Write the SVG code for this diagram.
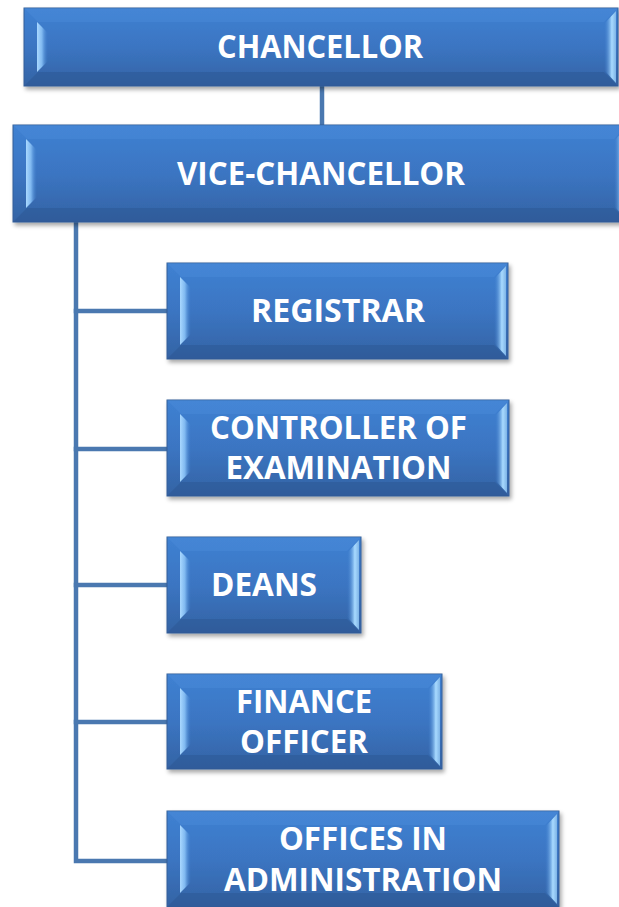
<svg xmlns="http://www.w3.org/2000/svg" width="619" height="907" viewBox="0 0 619 907">
<style>
.face{fill:url(#faceG);stroke:#345f98;stroke-width:1}
.top{fill:#4b8bd9;opacity:.45}
.bot{fill:#2a5590;opacity:.45}
.ls{fill:url(#lsG)}
.rs{fill:url(#rsG)}
.lbl{font-family:"Open Sans","Liberation Sans",sans-serif;font-weight:bold;font-size:32px;fill:#ffffff;text-anchor:middle}
.conn{stroke:#4a78b0;stroke-width:4.5;fill:none;stroke-linecap:square}
</style>
<defs>
<linearGradient id="faceG" x1="0" y1="0" x2="0" y2="1">
<stop offset="0" stop-color="#3f81d2"/>
<stop offset="0.5" stop-color="#3b75c2"/>
<stop offset="1" stop-color="#3463a4"/>
</linearGradient>
<linearGradient id="lsG" x1="0" y1="0" x2="1" y2="0">
<stop offset="0" stop-color="#a9d8ff"/>
<stop offset="0.45" stop-color="#7fb8f0"/>
<stop offset="1" stop-color="#3f7fcf" stop-opacity="0"/>
</linearGradient>
<linearGradient id="rsG" x1="0" y1="0" x2="1" y2="0">
<stop offset="0" stop-color="#3f7fcf" stop-opacity="0"/>
<stop offset="0.65" stop-color="#a8daff"/>
<stop offset="1" stop-color="#7fb4e6"/>
</linearGradient>
<filter id="sh" x="-5%" y="-10%" width="115%" height="130%">
<feDropShadow dx="2" dy="3" stdDeviation="2" flood-color="#000" flood-opacity="0.35"/>
</filter>
</defs>
<rect width="619" height="907" fill="#ffffff"/>
<g id="connectors">
<path class="conn" d="M322 86 V125"/>
<path class="conn" d="M76 222 V861 H167"/>
<path class="conn" d="M76 311 H167"/>
<path class="conn" d="M76 449 H167"/>
<path class="conn" d="M76 585 H167"/>
<path class="conn" d="M76 722 H167"/>
</g>
<g id="chancellor">
<rect class="face" x="24" y="8" width="594" height="78" filter="url(#sh)"/>
<polygon class="top" points="24,8 618,8 604,22 38,22"/>
<polygon class="bot" points="38,72 604,72 618,86 24,86"/>
<polygon class="ls" points="37,22 48,33 48,61 37,72"/>
<polygon class="rs" points="604,24 616,11 616,83 604,70"/>
<text class="lbl" x="320" y="57.5" textLength="206" lengthAdjust="spacingAndGlyphs">CHANCELLOR</text>
</g>
<g id="vice-chancellor">
<rect class="face" x="13" y="125" width="615" height="97" filter="url(#sh)"/>
<polygon class="top" points="13,125 628,125 614,139 27,139"/>
<polygon class="bot" points="27,208 614,208 628,222 13,222"/>
<polygon class="ls" points="26,139 37,150 37,197 26,208"/>
<polygon class="rs" points="614,141 626,128 626,219 614,206"/>
<text class="lbl" x="321" y="185" textLength="288" lengthAdjust="spacingAndGlyphs">VICE-CHANCELLOR</text>
</g>
<g id="registrar">
<rect class="face" x="167" y="263" width="341" height="96" filter="url(#sh)"/>
<polygon class="top" points="167,263 508,263 494,277 181,277"/>
<polygon class="bot" points="181,345 494,345 508,359 167,359"/>
<polygon class="ls" points="180,277 191,288 191,334 180,345"/>
<polygon class="rs" points="494,279 506,266 506,356 494,343"/>
<text class="lbl" x="338" y="322" textLength="174" lengthAdjust="spacingAndGlyphs">REGISTRAR</text>
</g>
<g id="controller">
<rect class="face" x="167" y="400" width="342" height="96" filter="url(#sh)"/>
<polygon class="top" points="167,400 509,400 495,414 181,414"/>
<polygon class="bot" points="181,482 495,482 509,496 167,496"/>
<polygon class="ls" points="180,414 191,425 191,471 180,482"/>
<polygon class="rs" points="495,416 507,403 507,493 495,480"/>
<text class="lbl" x="338.5" y="439" textLength="257" lengthAdjust="spacingAndGlyphs">CONTROLLER OF</text>
<text class="lbl" x="338.5" y="479" textLength="226" lengthAdjust="spacingAndGlyphs">EXAMINATION</text>
</g>
<g id="deans">
<rect class="face" x="167" y="537" width="194" height="96" filter="url(#sh)"/>
<polygon class="top" points="167,537 361,537 347,551 181,551"/>
<polygon class="bot" points="181,619 347,619 361,633 167,633"/>
<polygon class="ls" points="180,551 191,562 191,608 180,619"/>
<polygon class="rs" points="347,553 359,540 359,630 347,617"/>
<text class="lbl" x="264" y="596" textLength="106" lengthAdjust="spacingAndGlyphs">DEANS</text>
</g>
<g id="finance">
<rect class="face" x="167" y="674" width="275" height="95" filter="url(#sh)"/>
<polygon class="top" points="167,674 442,674 428,688 181,688"/>
<polygon class="bot" points="181,755 428,755 442,769 167,769"/>
<polygon class="ls" points="180,688 191,699 191,744 180,755"/>
<polygon class="rs" points="428,690 440,677 440,766 428,753"/>
<text class="lbl" x="304" y="713" textLength="136" lengthAdjust="spacingAndGlyphs">FINANCE</text>
<text class="lbl" x="304" y="753" textLength="128" lengthAdjust="spacingAndGlyphs">OFFICER</text>
</g>
<g id="offices">
<rect class="face" x="167" y="811" width="392" height="96" filter="url(#sh)"/>
<polygon class="top" points="167,811 559,811 545,825 181,825"/>
<polygon class="bot" points="181,893 545,893 559,907 167,907"/>
<polygon class="ls" points="180,825 191,836 191,882 180,893"/>
<polygon class="rs" points="545,827 557,814 557,904 545,891"/>
<text class="lbl" x="363" y="850" textLength="168" lengthAdjust="spacingAndGlyphs">OFFICES IN</text>
<text class="lbl" x="363" y="891" textLength="278" lengthAdjust="spacingAndGlyphs">ADMINISTRATION</text>
</g>
</svg>
